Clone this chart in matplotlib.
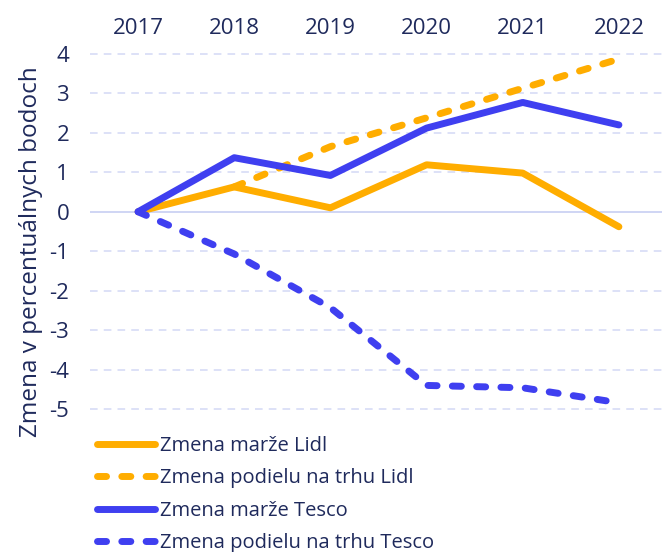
import matplotlib.pyplot as plt

years = [2017, 2018, 2019, 2020, 2021, 2022]
lidl_margin = [0.0, 0.63, 0.10, 1.19, 0.98, -0.38]
lidl_share_years = [2018, 2019, 2020, 2021, 2022]
lidl_share = [0.63, 1.65, 2.38, 3.13, 3.87]
tesco_margin = [0.0, 1.37, 0.92, 2.12, 2.77, 2.20]
tesco_share = [0.0, -1.07, -2.43, -4.40, -4.46, -4.84]
yticks = [-5, -4, -3, -2, -1, 0, 1, 2, 3, 4]

orange = "#FFAD00"
blue = "#3F3FF0"
text_color = "#1F2A5C"
grid_color = "#D3D9F5"

plt.rcParams["font.family"] = ["Open Sans", "DejaVu Sans"]
plt.rcParams["axes.unicode_minus"] = False

fig = plt.figure(figsize=(6.62, 5.52), dpi=100)
ax = fig.add_axes([90 / 662, 1 - 417 / 552, 577 / 662, 371 / 552])

for y in yticks:
    if y == 0:
        ax.axhline(y, color="#CBD2F3", lw=1.3, zorder=1)
    else:
        ax.axhline(y, color=grid_color, lw=1.1, ls=(0, (5, 4)), zorder=1)

dash = (0, (1.3, 2.2))
ax.plot(years, lidl_margin, color=orange, lw=5, solid_capstyle="round",
        solid_joinstyle="round", label="Zmena marže Lidl", zorder=3)
ax.plot(lidl_share_years, lidl_share, color=orange, lw=5, ls=dash, dash_capstyle="round",
        label="Zmena podielu na trhu Lidl", zorder=3)
ax.plot(years, tesco_margin, color=blue, lw=5, solid_capstyle="round",
        solid_joinstyle="round", label="Zmena marže Tesco", zorder=4)
ax.plot(years, tesco_share, color=blue, lw=5, ls=dash, dash_capstyle="round",
        label="Zmena podielu na trhu Tesco", zorder=4)

ax.set_xlim(2016.5, 2022.5)
ax.set_ylim(-5.2, 4.2)
ax.set_xticks(years)
ax.set_yticks(yticks)
ax.xaxis.tick_top()
ax.tick_params(axis="both", length=0, labelsize=16, labelcolor=text_color)
ax.tick_params(axis="x", pad=5)
ax.tick_params(axis="y", pad=15)
for s in ax.spines.values():
    s.set_visible(False)

fig.text(31 / 662, 1 - 252 / 552, "Zmena v percentuálnych bodoch", rotation=90,
         ha="center", va="center", fontsize=17.5, color=text_color)

leg = fig.legend(loc="upper left", bbox_to_anchor=(97 / 662, 1 - 436 / 552),
                 frameon=False, fontsize=14.5, handlelength=2.9, handletextpad=0.25,
                 labelspacing=0.62, borderaxespad=0, borderpad=0)
for t in leg.get_texts():
    t.set_color(text_color)

fig.savefig("out.png", dpi=100)
